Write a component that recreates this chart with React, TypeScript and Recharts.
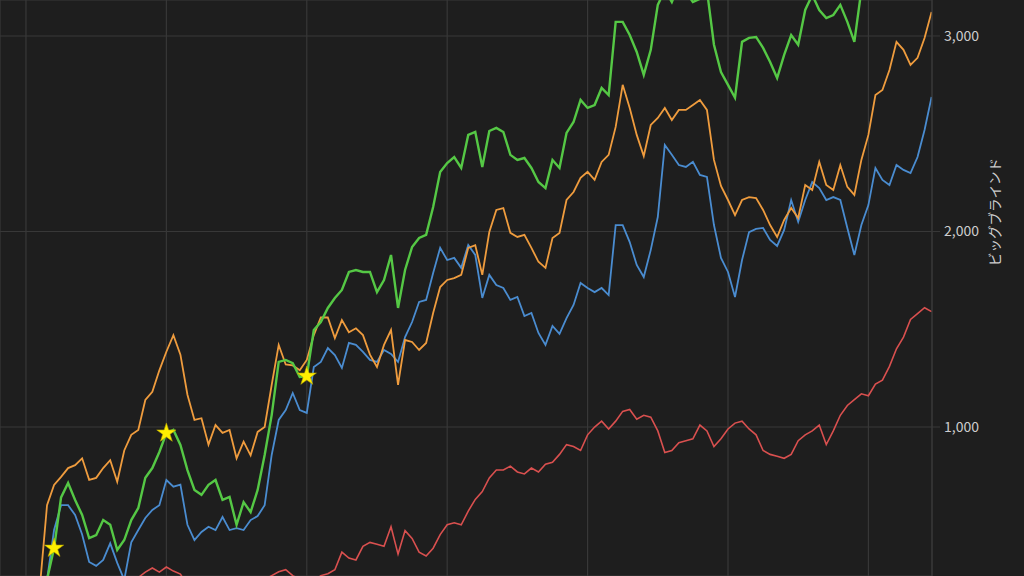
import React from "react";
import {
  ComposedChart,
  Line,
  Scatter,
  XAxis,
  YAxis,
  CartesianGrid,
  Symbols,
} from "recharts";

// hands are sampled every 500 hands, starting at 0
const handStep = 500;

// winnings in big blinds
const orange = [
  0, 60, 190, 600, 704, 745, 790, 805, 840, 730,
  740, 790, 830, 720, 880, 960, 985, 1138, 1180, 1290,
  1385, 1470, 1370, 1165, 1036, 1045, 910, 1010, 970, 985,
  840, 925, 855, 975, 1000, 1215, 1420, 1320, 1315, 1290,
  1343, 1470, 1560, 1560, 1455, 1547, 1485, 1505, 1470, 1370,
  1307, 1420, 1496, 1215, 1445, 1435, 1394, 1430, 1583, 1716,
  1752, 1762, 1778, 1916, 1930, 1778, 1997, 2110, 2120, 1993,
  1972, 1983, 1916, 1845, 1814, 1967, 1993, 2161, 2202, 2274,
  2305, 2264, 2356, 2392, 2535, 2750, 2632, 2494, 2386, 2545,
  2581, 2632, 2570, 2622, 2622, 2647, 2673, 2622, 2366, 2233,
  2161, 2084, 2161, 2176, 2171, 2110, 2033, 1972, 2059, 2120,
  2069, 2238, 2212, 2356, 2238, 2212, 2340, 2228, 2187, 2366,
  2494, 2698, 2724, 2826, 2970, 2929, 2852, 2888, 2990, 3123,
];

const blue = [
  0, 60, 140, 218, 473, 600, 600, 550, 450, 310,
  290, 320, 405, 305, 218, 410, 473, 535, 576, 600,
  729, 695, 705, 500, 422, 463, 490, 473, 540, 473,
  483, 473, 524, 545, 600, 857, 1036, 1087, 1174, 1087,
  1072, 1307, 1333, 1404, 1368, 1302, 1430, 1420, 1384, 1343,
  1333, 1394, 1374, 1333, 1460, 1537, 1640, 1650, 1788, 1916,
  1854, 1865, 1814, 1931, 1880, 1660, 1778, 1726, 1711, 1650,
  1665, 1568, 1583, 1481, 1420, 1517, 1476, 1557, 1624, 1737,
  1711, 1690, 1711, 1675, 2033, 2033, 1946, 1829, 1767, 1906,
  2074, 2443, 2392, 2340, 2330, 2356, 2289, 2279, 2033, 1865,
  1793, 1665, 1854, 1997, 2013, 2018, 1957, 1926, 2008, 2161,
  2049, 2161, 2253, 2222, 2161, 2176, 2161, 2018, 1880, 2033,
  2135, 2325, 2264, 2238, 2340, 2315, 2299, 2381, 2519, 2688,
];

const green = [
  0, 50, 140, 220, 380, 640, 714, 627, 550, 432,
  447, 524, 500, 371, 422, 524, 586, 740, 790, 872,
  969, 985, 908, 780, 678, 653, 704, 729, 627, 642,
  500, 616, 565, 678, 857, 1061, 1333, 1343, 1327, 1256,
  1260, 1496, 1537, 1609, 1660, 1701, 1793, 1803, 1793, 1793,
  1690, 1752, 1880, 1609, 1803, 1921, 1967, 1983, 2125, 2304,
  2350, 2381, 2325, 2494, 2509, 2330, 2514, 2530, 2509, 2392,
  2366, 2376, 2325, 2253, 2222, 2366, 2325, 2504, 2560, 2673,
  2632, 2647, 2734, 2698, 3072, 3072, 3005, 2918, 2801, 2929,
  3159, 3235, 3174, 3260, 3225, 3174, 3190, 3235, 2955, 2816,
  2750, 2684, 2970, 2990, 2995, 2939, 2867, 2785, 2903, 3005,
  2955, 3133, 3210, 3133, 3092, 3107, 3159, 3072, 2970, 3235,
];

const red = [
  0, 40, 90, 120, 160, 140, 180, 150, 190, 170,
  200, 180, 210, 190, 220, 210, 230, 258, 279, 258,
  284, 263, 248, 190, 200, 180, 200, 170, 190, 210,
  200, 190, 220, 230, 220, 240, 260, 270, 240, 220,
  230, 210, 240, 250, 270, 360, 330, 320, 390, 410,
  400, 390, 490, 350, 470, 430, 360, 340, 380, 450,
  500, 510, 500, 570, 630, 670, 740, 780, 780, 800,
  770, 760, 790, 770, 810, 820, 860, 910, 900, 880,
  960, 1000, 1030, 990, 1030, 1080, 1090, 1040, 1060, 1050,
  980, 870, 880, 920, 930, 940, 1010, 980, 900, 940,
  990, 1020, 1030, 990, 960, 880, 860, 850, 840, 860,
  930, 960, 980, 1010, 910, 980, 1060, 1110, 1140, 1170,
  1160, 1220, 1240, 1310, 1400, 1460, 1550, 1580, 1610, 1590,
];

// yellow stars sitting on the green line
const starHands = [2000, 10000, 20000];
const starValues = [380, 969, 1260];

const xTicks = [0, 10000, 20000, 30000, 40000, 50000, 60000];
const yTicks = [1000, 2000, 3000];
const yLabel = "ビッグブラインド";

const data = orange.map((v, i) => ({
  hands: i * handStep,
  orange: v,
  blue: blue[i],
  green: green[i] ?? null,
  red: red[i],
}));

const stars = starHands.map((h, i) => ({ hands: h, star: starValues[i] }));

const gridColor = "#383838";
const textColor = "#cdcdcd";

const StarShape = (props: any) => (
  <Symbols
    cx={props.cx}
    cy={props.cy}
    type="star"
    size={115}
    fill="#ffee00"
    stroke="#b5a500"
    strokeWidth={0.6}
  />
);

const AxisTitle = (props: any) => {
  const vb = props.viewBox;
  const x = vb.x + 62;
  const y = vb.y + 212;
  return (
    <text
      x={x}
      y={y}
      transform={`rotate(-90, ${x}, ${y})`}
      textAnchor="middle"
      dominantBaseline="central"
      fill={textColor}
      fontSize={13.5}
      fontFamily="'Noto Sans CJK JP', sans-serif"
    >
      {yLabel}
    </text>
  );
};

export default function App() {
  return (
    <div
      style={{
        position: "fixed",
        left: 0,
        top: 0,
        width: 1024,
        height: 576,
        background: "#1e1e1e",
        fontFamily: "'Noto Sans CJK JP', 'Noto Sans', sans-serif",
      }}
    >
      <ComposedChart
        width={1024}
        height={576}
        data={data}
        margin={{ top: 0, right: 0, bottom: 0, left: 0 }}
      >
        <CartesianGrid stroke={gridColor} strokeWidth={1.2} />
        <XAxis
          type="number"
          dataKey="hands"
          domain={[-1850, 64530]}
          ticks={xTicks}
          allowDataOverflow
          hide
        />
        <YAxis
          orientation="right"
          width={92}
          domain={[238, 3184]}
          ticks={yTicks}
          allowDataOverflow
          tickFormatter={(v: number) => v.toLocaleString("en-US")}
          tick={{ fill: textColor, fontSize: 14 }}
          tickLine={{ stroke: gridColor }}
          axisLine={{ stroke: gridColor }}
          tickSize={8}
          tickMargin={4}
          label={<AxisTitle />}
        />
        <Line
          type="linear"
          dataKey="blue"
          stroke="#4a8cd0"
          strokeWidth={1.8}
          dot={false}
          isAnimationActive={false}
        />
        <Line
          type="linear"
          dataKey="orange"
          stroke="#ef9c3e"
          strokeWidth={1.8}
          dot={false}
          isAnimationActive={false}
        />
        <Line
          type="linear"
          dataKey="red"
          stroke="#d9504f"
          strokeWidth={1.6}
          dot={false}
          isAnimationActive={false}
        />
        <Line
          type="linear"
          dataKey="green"
          stroke="#55c845"
          strokeWidth={2.4}
          dot={false}
          isAnimationActive={false}
        />
        <Scatter
          data={stars}
          dataKey="star"
          shape={StarShape}
          isAnimationActive={false}
        />
      </ComposedChart>
    </div>
  );
}
